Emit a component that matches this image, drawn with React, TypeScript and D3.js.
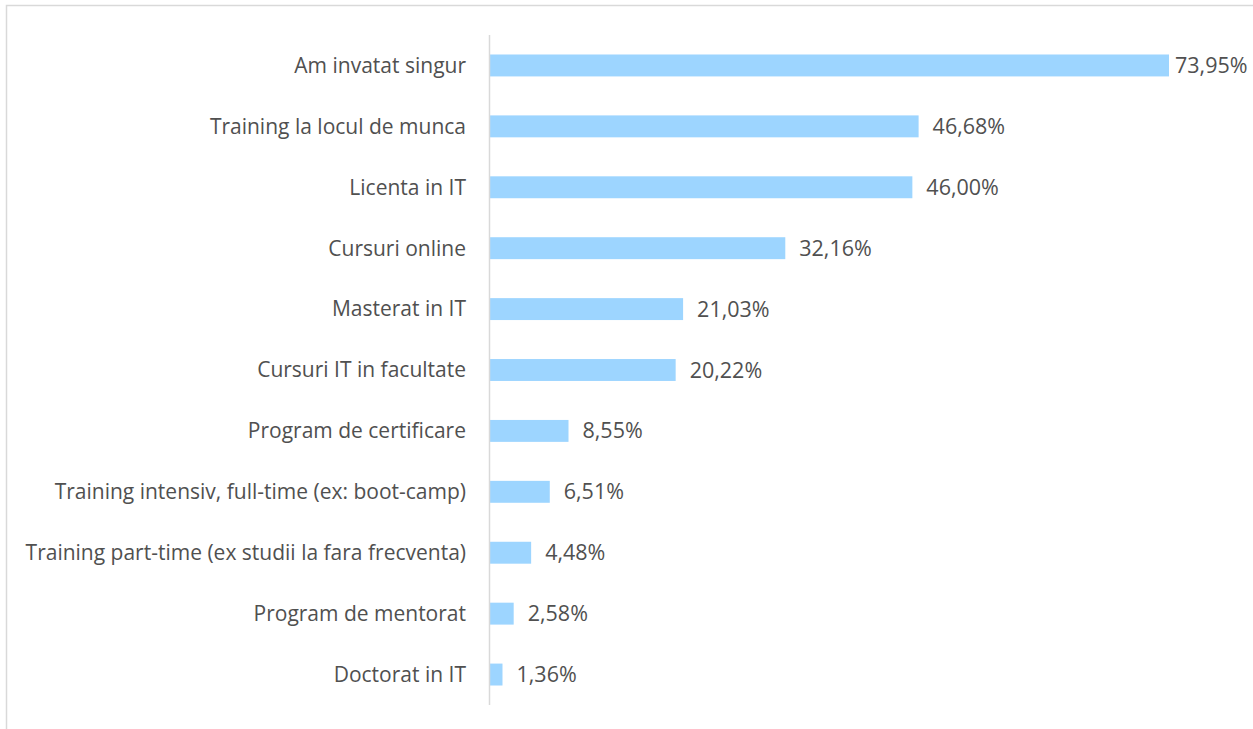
import React from "react";
import * as d3 from "d3";

const categories = [
  "Am invatat singur",
  "Training la locul de munca",
  "Licenta in IT",
  "Cursuri online",
  "Masterat in IT",
  "Cursuri IT in facultate",
  "Program de certificare",
  "Training intensiv, full-time (ex: boot-camp)",
  "Training part-time (ex studii la fara frecventa)",
  "Program de mentorat",
  "Doctorat in IT",
];
const values = [73.95, 46.68, 46.0, 32.16, 21.03, 20.22, 8.55, 6.51, 4.48, 2.58, 1.36];

const W = 1253;
const H = 729;

export default function App() {
  const x0 = 490;
  const x = d3.scaleLinear().domain([0, 73.95]).range([x0, 1169]);
  const y = d3.scaleBand<string>().domain(categories).range([35, 705]).paddingInner(0.64).paddingOuter(0.32);
  const fmt = (v: number) => v.toFixed(2).replace(".", ",") + "%";
  const font = "'Open Sans', 'Noto Sans', sans-serif";
  return (
    <svg width={W} height={H} style={{ position: "absolute", left: 0, top: 0 }}>
      <rect x={0} y={0} width={W} height={H} fill="#fff" />
      <rect x={6.5} y={5.5} width={W + 10} height={H + 10} fill="none" stroke="#d9d9d9" strokeWidth={1.5} />
      {categories.map((c, i) => {
        const yy = y(c)!;
        const bw = y.bandwidth();
        const lx = Math.min(x(values[i]) + 14, 1175);
        return (
          <g key={c}>
            <rect x={x0} y={yy} width={x(values[i]) - x0} height={bw} fill="#9dd5ff" />
            <text x={466} y={yy + bw / 2} dy="0.35em" textAnchor="end" fontFamily={font} fontSize={21} fill="#505050">
              {c}
            </text>
            <text x={lx} y={yy + bw / 2} dy="0.35em" textAnchor="start" fontFamily={font} fontSize={21.5} fill="#505050">
              {fmt(values[i])}
            </text>
          </g>
        );
      })}
      <line x1={489.5} x2={489.5} y1={35} y2={705} stroke="#d9d9d9" strokeWidth={1.5} />
    </svg>
  );
}
